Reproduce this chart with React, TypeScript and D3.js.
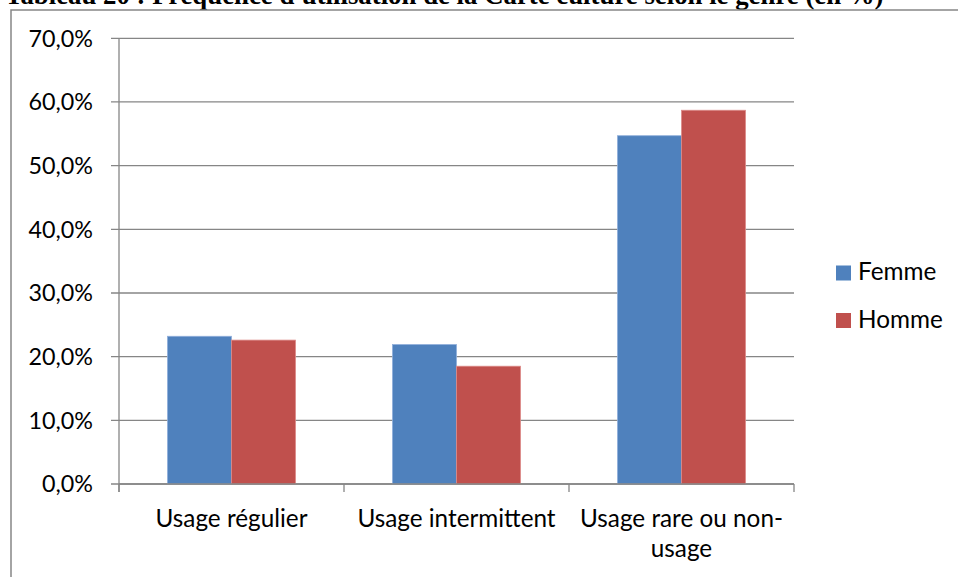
import React from "react";
import * as d3 from "d3";

const title = "Tableau 20 : Fréquence d'utilisation de la Carte culture selon le genre (en %)";
const categories = ["Usage régulier", "Usage intermittent", "Usage rare ou non-usage"];
const categoryLines = [["Usage régulier"], ["Usage intermittent"], ["Usage rare ou non-", "usage"]];
const seriesNames = ["Femme", "Homme"];
const femme = [23.2, 21.9, 54.7];
const homme = [22.6, 18.5, 58.7];
const yTicks = [0, 10, 20, 30, 40, 50, 60, 70];
const colors = ["#4F81BD", "#C0504D"];
const edgeColors = ["#8FAEDA", "#DC8A88"];

const W = 958;
const H = 577;
const FONT = "Lato, 'Open Sans', sans-serif";

export default function App() {
  const plotLeft = 119;
  const plotRight = 794;
  const plotTop = 38.3;
  const plotBottom = 484;
  const y = d3.scaleLinear().domain([0, 70]).range([plotBottom, plotTop]);
  const x = d3.scaleBand<string>().domain(categories).range([plotLeft, plotRight]).paddingInner(0).paddingOuter(0);
  const bw = x.bandwidth();
  const inner = d3
    .scaleBand<string>()
    .domain(seriesNames)
    .range([bw * 0.2155, bw * (1 - 0.2155)])
    .padding(0);
  const seriesValues = [femme, homme];
  const fmt = (v: number) => d3.format(".1f")(v).replace(".", ",") + "%";
  const grid = "#868686";

  return (
    <svg width={W} height={H} style={{ position: "absolute", left: 0, top: 0, background: "#fff" }}>
      <text x={5} y={4} fontFamily="'Liberation Serif', 'Times New Roman', serif" fontWeight="bold" fontSize={26.8} fill="#000">
        {title}
      </text>
      <rect x={11} y={10} width={1000} height={700} fill="none" stroke={grid} strokeWidth={1.5} />
      {yTicks.map((t) => (
        <g key={t}>
          <line x1={111} x2={plotRight} y1={y(t)} y2={y(t)} stroke={grid} strokeWidth={1.3} />
          <text x={93} y={y(t)} dy="0.36em" textAnchor="end" fontFamily={FONT} fontSize={23.3} fill="#000">
            {fmt(t)}
          </text>
        </g>
      ))}
      {categories.map((c, i) =>
        seriesNames.map((s, j) => {
          const v = seriesValues[j][i];
          const bx = (x(c) as number) + (inner(s) as number);
          return (
            <rect
              key={c + s}
              x={bx}
              y={y(v)}
              width={inner.bandwidth()}
              height={plotBottom - y(v)}
              fill={colors[j]}
              stroke={edgeColors[j]}
              strokeWidth={0.8}
            />
          );
        })
      )}
      <line x1={plotLeft} x2={plotLeft} y1={plotTop} y2={plotBottom + 8} stroke={grid} strokeWidth={1.3} />
      <line x1={plotLeft} x2={plotRight} y1={plotBottom} y2={plotBottom} stroke={grid} strokeWidth={1.3} />
      {[...categories.map((c) => x(c) as number), plotRight].map((tx, i) => (
        <line key={i} x1={tx} x2={tx} y1={plotBottom} y2={plotBottom + 8} stroke={grid} strokeWidth={1.3} />
      ))}
      {categories.map((c, i) => (
        <text key={c} textAnchor="middle" fontFamily={FONT} fontSize={24.3} fill="#000">
          {categoryLines[i].map((ln, k) => (
            <tspan key={k} x={(x(c) as number) + bw / 2} y={527 + k * 30}>
              {ln}
            </tspan>
          ))}
        </text>
      ))}
      {seriesNames.map((s, j) => (
        <g key={s}>
          <rect x={836} y={265.5 + j * 47.5} width={15} height={15} fill={colors[j]} />
          <text x={858} y={280 + j * 47.5} fontFamily={FONT} fontSize={24.3} fill="#000">
            {s}
          </text>
        </g>
      ))}
    </svg>
  );
}
